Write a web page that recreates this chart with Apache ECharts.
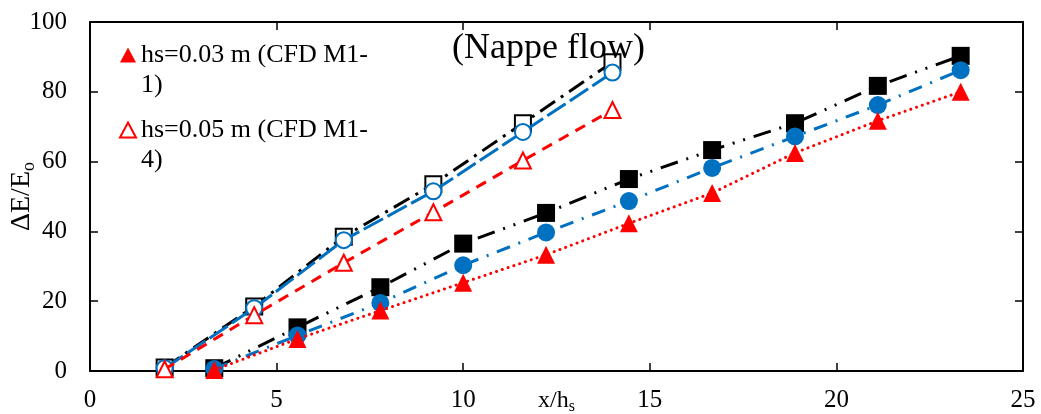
<!DOCTYPE html>
<html>
<head>
<meta charset="utf-8">
<script src="https://cdn.jsdelivr.net/npm/echarts@6/dist/echarts.min.js"></script>
<style>
html,body{margin:0;padding:0;background:#fff;}
#c{width:1041px;height:414px;}
</style>
</head>
<body>
<div id="c"></div>
<script>
// x/hs positions
var xLeft = [2.0, 4.4, 6.8, 9.2, 11.6, 14.0];
var xRight = [3.33, 5.56, 7.78, 10, 12.22, 14.44, 16.67, 18.89, 21.11, 23.33];
// hs = 0.05 m series (open markers)
var openSquare = [1, 18.5, 38.5, 53.5, 71, 88.5];
var openCircle = [0.8, 18, 37.5, 51.5, 68.5, 85.5];
var openTriangle = [0.5, 16, 31, 45.5, 60.3, 74.8];
// hs = 0.03 m series (filled markers)
var filledSquare = [0.8, 12.5, 24, 36.5, 45.3, 55, 63.3, 71, 81.7, 90.3];
var filledCircle = [0.6, 10.2, 19.5, 30.3, 39.7, 48.7, 58.2, 67.2, 76.2, 86.2];
var filledTriangle = [0.3, 9.2, 17.3, 25.3, 33.3, 42.3, 51, 62.5, 71.7, 80];
var legendNames = ['hs=0.03 m (CFD M1-1)', 'hs=0.05 m (CFD M1-4)'];
var titleText = '(Nappe flow)';

function pairs(xs, ys){ return xs.map(function(x,i){ return [x, ys[i]]; }); }

var FONT = 'Liberation Serif';
var BLUE = '#0070C0', RED = '#FF0000', BLACK = '#000000';

function mk(name, xs, ys, color, symbol, filled, dash, z, size, cap){
  return {
    name: name, type: 'line', data: pairs(xs, ys),
    symbol: symbol, symbolSize: size, showSymbol: true,
    lineStyle: {color: color, width: 3, type: dash, cap: cap || 'butt'},
    itemStyle: filled ? {color: color, borderWidth: 0} : {color: '#ffffff', borderColor: color, borderWidth: 2},
    z: z, animation: false, emphasis: {disabled: true}
  };
}

var chart = echarts.init(document.getElementById('c'), null, {renderer: 'canvas'});
var axisCommon = {
  min: 0, axisLine: {show: true, onZero: false, lineStyle: {color: '#000', width: 2}},
  axisTick: {show: true, inside: true, length: 8, lineStyle: {color: '#000', width: 1.5}},
  splitLine: {show: false}
};
function nameStyle(size, sub, subPad){
  return {
    fontFamily: FONT, fontSize: size, color: '#000',
    rich: {
      a: {fontFamily: FONT, fontSize: size, color: '#000'},
      s: {fontFamily: FONT, fontSize: sub, color: '#000', padding: [subPad, 0, 0, 0]}
    }
  };
}
chart.setOption({
  animation: false,
  grid: {left: 90, right: 18, top: 22, bottom: 43, containLabel: false, outerBoundsMode: 'none'},
  title: {text: titleText, left: 447, top: 26, textStyle: {fontFamily: FONT, fontSize: 36, fontWeight: 'normal', color: '#000'}},
  legend: {
    data: [{name: legendNames[0], icon: 'triangle'}, {name: legendNames[1], icon: 'triangle'}],
    orient: 'vertical', left: 114, top: 5, itemWidth: 16, itemHeight: 15, itemGap: -15,
    formatter: function(n){ return ' \n' + n.replace('M1-', 'M1-\n'); },
    textStyle: {fontFamily: FONT, fontSize: 26, color: '#000', lineHeight: 30}
  },
  xAxis: [
    Object.assign({}, axisCommon, {type: 'value', max: 25, interval: 5, position: 'bottom',
      axisLabel: {fontFamily: FONT, fontSize: 25, color: '#000', margin: 17},
      name: '{a|x/h}{s|s}', nameLocation: 'middle', nameGap: 16, nameMoveOverlap: false,
      nameTextStyle: nameStyle(24, 16, 12)}),
    Object.assign({}, axisCommon, {type: 'value', max: 25, interval: 5, position: 'top', axisLabel: {show: false}})
  ],
  yAxis: [
    Object.assign({}, axisCommon, {type: 'value', max: 100, interval: 20, position: 'left',
      axisLabel: {fontFamily: FONT, fontSize: 25, color: '#000', margin: 23},
      name: '{a|ΔE/E}{s|o}', nameLocation: 'middle', nameGap: 52, nameRotate: 90, nameMoveOverlap: false,
      nameTextStyle: nameStyle(28, 18, 14)}),
    Object.assign({}, axisCommon, {type: 'value', max: 100, interval: 20, position: 'right', axisLabel: {show: false}})
  ],
  series: [
    mk('open square', xLeft, openSquare, BLACK, 'rect', false, [18,7,3,7], 5, 16),
    mk('open circle', xLeft, openCircle, BLUE, 'circle', false, [22,5], 6, 16),
    mk(legendNames[1], xLeft, openTriangle, RED, 'triangle', false, [11,8], 7, 16),
    mk('filled square', xRight, filledSquare, BLACK, 'rect', true, [18,9,2,9,2,9], 5, 18),
    mk('filled circle', xRight, filledCircle, BLUE, 'circle', true, [14,9,2,9], 6, 18),
    mk(legendNames[0], xRight, filledTriangle, RED, 'triangle', true, [0.1,6], 7, 18, 'round')
  ]
});
</script>
</body>
</html>
